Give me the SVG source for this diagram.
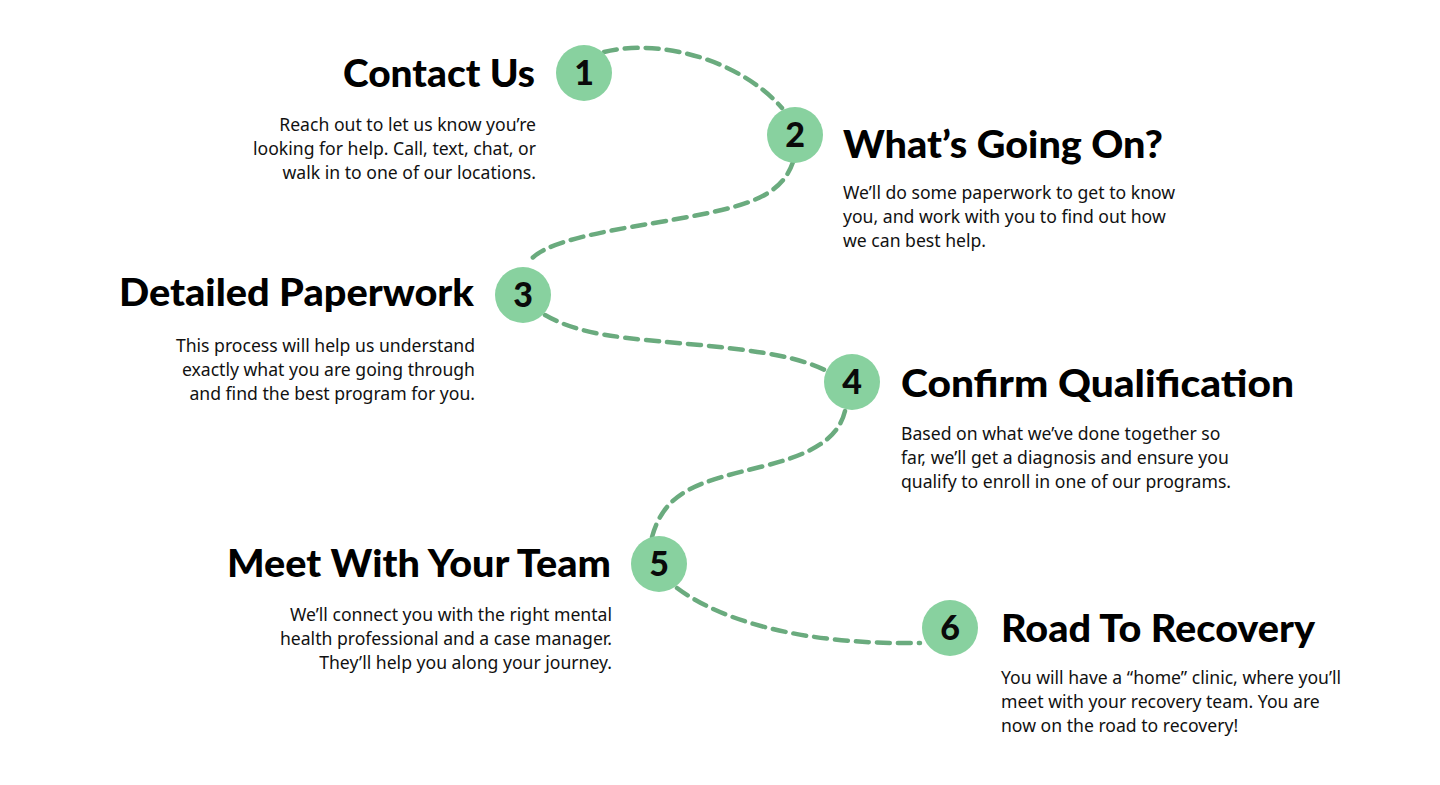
<svg xmlns="http://www.w3.org/2000/svg" width="1440" height="785" viewBox="0 0 1440 785">
<style>
.bg{fill:#ffffff}
.road{fill:none;stroke:#6aab7e;stroke-width:4.5;stroke-dasharray:13 8;stroke-linecap:round}
.dot{fill:#88d19f}
.num{font-family:Lato,"Open Sans",sans-serif;font-weight:900;font-size:34px;fill:#0a0a0a;text-anchor:middle}
.h{font-family:Lato,"Open Sans",sans-serif;font-weight:900;font-size:38px;fill:#000}
.b{font-family:"Noto Sans","Open Sans",sans-serif;font-size:17.6px;fill:#111}
.r{text-anchor:end}
</style>
<rect class="bg" x="0" y="0" width="1440" height="785"/>
<g id="connectors">
<path class="road" d="M604,52 C660,38 740,60 782,108"/>
<path class="road" d="M793,162 C780,200 740,208 660,222 C580,235 540,245 528,263"/>
<path class="road" d="M545,315 C580,335 620,338 700,345 C770,352 800,358 827,371"/>
<path class="road" d="M845,411 C838,440 810,455 760,467 C700,482 665,490 652,537"/>
<path class="road" d="M677,588 C720,620 800,645 920,643"/>
</g>
<g id="step1">
<circle class="dot" cx="584" cy="73" r="28"/>
<text class="num" x="584" y="85">1</text>
<text class="h r" x="535" y="87" textLength="192" lengthAdjust="spacingAndGlyphs">Contact Us</text>
<text class="b r" x="536" y="131">Reach out to let us know you’re</text>
<text class="b r" x="536" y="155">looking for help. Call, text, chat, or</text>
<text class="b r" x="536" y="179">walk in to one of our locations.</text>
</g>
<g id="step2">
<circle class="dot" cx="795" cy="135" r="28"/>
<text class="num" x="795" y="147">2</text>
<text class="h" x="843" y="158" textLength="320" lengthAdjust="spacingAndGlyphs">What’s Going On?</text>
<text class="b" x="843" y="199">We’ll do some paperwork to get to know</text>
<text class="b" x="843" y="223">you, and work with you to find out how</text>
<text class="b" x="843" y="247">we can best help.</text>
</g>
<g id="step3">
<circle class="dot" cx="523" cy="295" r="28"/>
<text class="num" x="523" y="307">3</text>
<text class="h r" x="474" y="306" textLength="355" lengthAdjust="spacingAndGlyphs">Detailed Paperwork</text>
<text class="b r" x="475" y="352">This process will help us understand</text>
<text class="b r" x="475" y="376">exactly what you are going through</text>
<text class="b r" x="475" y="400">and find the best program for you.</text>
</g>
<g id="step4">
<circle class="dot" cx="852" cy="382" r="28"/>
<text class="num" x="852" y="394">4</text>
<text class="h" x="901" y="397" textLength="393" lengthAdjust="spacingAndGlyphs">Confirm Qualification</text>
<text class="b" x="901" y="440">Based on what we’ve done together so</text>
<text class="b" x="901" y="464">far, we’ll get a diagnosis and ensure you</text>
<text class="b" x="901" y="488">qualify to enroll in one of our programs.</text>
</g>
<g id="step5">
<circle class="dot" cx="659" cy="564" r="28"/>
<text class="num" x="659" y="576">5</text>
<text class="h r" x="611" y="577" textLength="384" lengthAdjust="spacingAndGlyphs">Meet With Your Team</text>
<text class="b r" x="612" y="621">We’ll connect you with the right mental</text>
<text class="b r" x="612" y="645">health professional and a case manager.</text>
<text class="b r" x="612" y="669">They’ll help you along your journey.</text>
</g>
<g id="step6">
<circle class="dot" cx="950" cy="628" r="28"/>
<text class="num" x="950" y="640">6</text>
<text class="h" x="1001" y="642" textLength="314" lengthAdjust="spacingAndGlyphs">Road To Recovery</text>
<text class="b" x="1001" y="684">You will have a “home” clinic, where you’ll</text>
<text class="b" x="1001" y="708">meet with your recovery team. You are</text>
<text class="b" x="1001" y="732">now on the road to recovery!</text>
</g>
</svg>
